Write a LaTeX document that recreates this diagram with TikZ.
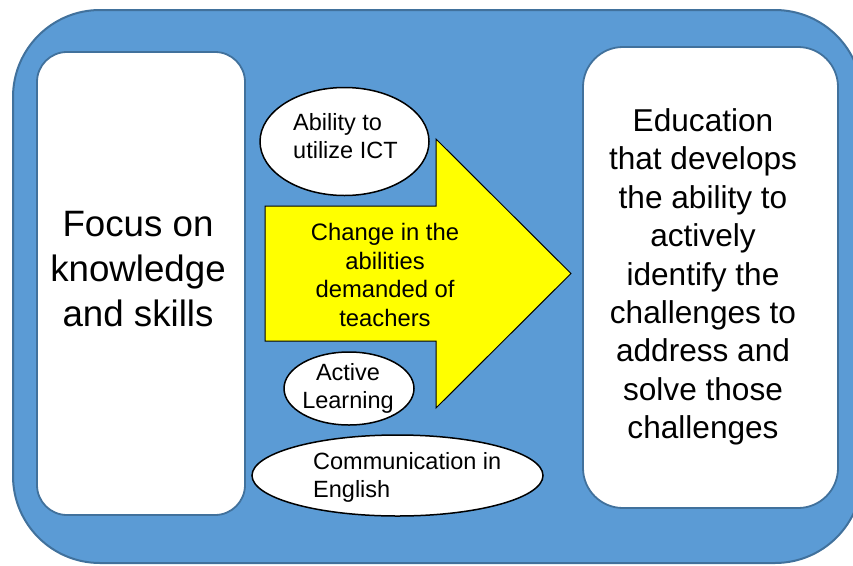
\documentclass[tikz,border=0pt]{standalone}
\usepackage{fontspec}
\setmainfont{Liberation Sans}
\usetikzlibrary{shapes.geometric}
\definecolor{outerblue}{HTML}{5B9BD5}
\definecolor{outerline}{HTML}{41719C}
\definecolor{arrowyellow}{HTML}{FFFF00}
\tikzset{
  frame/.style={draw=outerline, line width=2pt, fill=outerblue, rounded corners=87pt, inner sep=0pt},
  whitebox/.style={draw=outerline, line width=1.8pt, fill=white, inner sep=0pt},
  bigarrow/.style={draw=black, line width=1pt, fill=arrowyellow, line join=miter},
  bubble/.style={ellipse, draw=black, line width=1.5pt, fill=white, inner sep=0pt},
  smalltext/.style={font=\fontsize{23.5}{28}\selectfont, inner sep=0pt},
}
\begin{document}
\begin{tikzpicture}[x=1pt,y=-1pt]
\useasboundingbox (0,0) rectangle (853,565);
\begin{scope}
\clip (0,0) rectangle (853,565);
\node[frame, minimum width=849pt, minimum height=553pt] (outer) at (437.5,286.5) {};
\end{scope}
\node[whitebox, rounded corners=30pt, minimum width=208pt, minimum height=463pt] (leftbox) at (141,283.5) {};
\node[align=center, inner sep=0pt, font=\fontsize{36.7}{45}\selectfont] (lefttext) at (138,269) {Focus on\\knowledge\\and skills};
\node[whitebox, rounded corners=40pt, minimum width=255pt, minimum height=461pt] (rightbox) at (710.5,277.5) {};
\node[align=center, inner sep=0pt, font=\fontsize{31.6}{38.4}\selectfont] (righttext) at (703,277) {Education\\that develops\\the ability to\\actively\\identify the\\challenges to\\address and\\solve those\\challenges};
\draw[bigarrow] (265,206) -- (436,206) -- (436,139) -- (571,273.5) -- (436,408) -- (436,341) -- (265,341) -- cycle;
\node[align=center, inner sep=0pt, font=\fontsize{23.8}{28.7}\selectfont] (arrowtext) at (385,275) {Change in the\\abilities\\demanded of\\teachers};
\node[bubble, minimum width=169pt, minimum height=108pt] (ict) at (344.5,141.5) {};
\node[smalltext, align=left, anchor=west] (icttext) at (293,136) {Ability to\\utilize ICT};
\node[bubble, minimum width=130pt, minimum height=73pt] (active) at (349,388.5) {};
\node[smalltext, align=center] (activetext) at (348,388.5) {Active\\Learning};
\node[bubble, minimum width=291pt, minimum height=81pt] (comm) at (397.5,475.5) {};
\node[smalltext, align=left, anchor=west] (commtext) at (313,477.5) {Communication in\\English};
\end{tikzpicture}
\end{document}
